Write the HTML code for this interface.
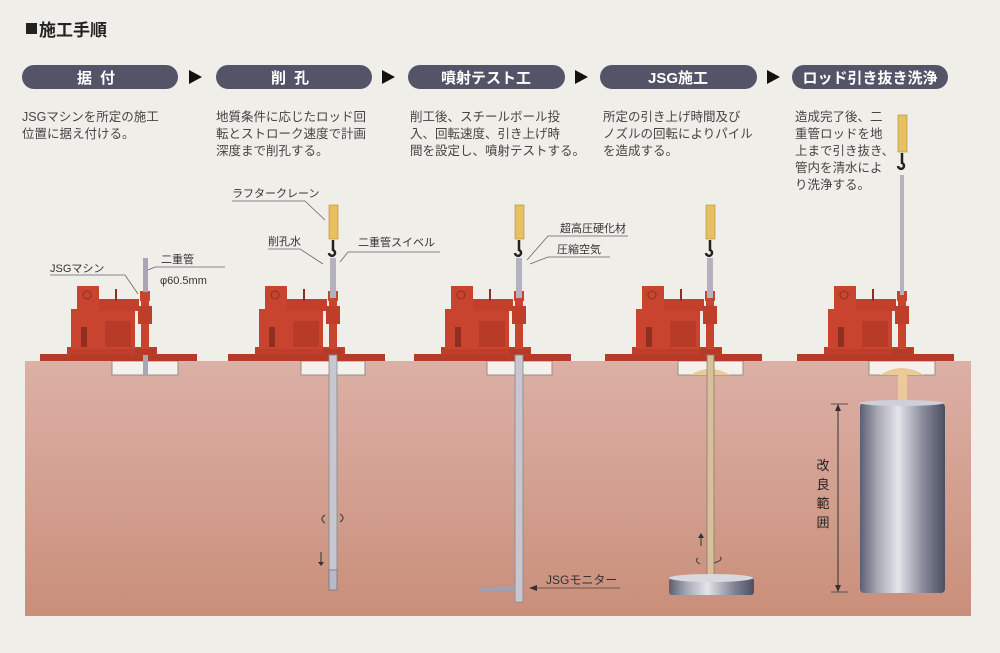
<!DOCTYPE html>
<html><head><meta charset="utf-8"><style>
html,body{margin:0;padding:0;background:#efeee9;}
body{width:1000px;height:653px;overflow:hidden;position:relative;font-family:"Liberation Sans","Noto Sans CJK JP",sans-serif;}
svg{position:absolute;left:0;top:0;}
</style></head><body>
<svg width="1000" height="653" viewBox="0 0 1000 653" xmlns="http://www.w3.org/2000/svg" font-family="Liberation Sans, Noto Sans CJK JP, sans-serif">
<defs>
<linearGradient id="gr" x1="0" y1="0" x2="0" y2="1">
<stop offset="0" stop-color="#dcb0a6"/><stop offset="1" stop-color="#c98f7a"/>
</linearGradient>
<linearGradient id="cyl" x1="0" y1="0" x2="1" y2="0">
<stop offset="0" stop-color="#5c5f72"/><stop offset="0.2" stop-color="#a4a6b2"/><stop offset="0.45" stop-color="#e4e4ea"/><stop offset="0.75" stop-color="#868898"/><stop offset="1" stop-color="#4c4f62"/>
</linearGradient>
<g id="mach">
<rect x="-105" y="-7" width="157" height="7" fill="#b63a28"/>
<rect x="-78" y="-14" width="90" height="8" fill="#bf3e2a"/>
<rect x="-74" y="-52" width="64" height="40" fill="#c8442e"/>
<rect x="-68" y="-75" width="22" height="25" fill="#c8442e"/>
<rect x="-46" y="-62" width="40" height="12" fill="#c2402b"/>
<rect x="-40" y="-40" width="26" height="26" fill="#b83b28"/>
<rect x="-64" y="-34" width="6" height="20" fill="#8e2f22"/>
<rect x="-30" y="-72" width="2" height="12" fill="#8e2f22"/>
<circle cx="-58" cy="-66" r="4" fill="none" stroke="#8e2f22" stroke-width="1"/>
<rect x="-4" y="-62" width="8" height="52" fill="#c8442e"/>
<rect x="-7" y="-55" width="14" height="18" fill="#bf3e2a"/>
<rect x="-5" y="-70" width="10" height="10" fill="#c8442e"/>
<rect x="-10" y="-12" width="20" height="5" fill="#b63a28"/>
</g>
</defs>

<rect x="26" y="23" width="11" height="11" fill="#222"/>
<text x="39" y="36" font-size="17" font-weight="bold" fill="#222">施工手順</text>

<g font-size="15" font-weight="bold" fill="#fff" text-anchor="middle">
<rect x="22" y="65" width="156" height="24" rx="12" fill="#545468"/><text x="100" y="83" letter-spacing="8">据付</text>
<rect x="216" y="65" width="156" height="24" rx="12" fill="#545468"/><text x="294" y="83" letter-spacing="8">削孔</text>
<rect x="408" y="65" width="157" height="24" rx="12" fill="#545468"/><text x="486" y="83">噴射テスト工</text>
<rect x="600" y="65" width="157" height="24" rx="12" fill="#545468"/><text x="678" y="83">JSG施工</text>
<rect x="792" y="65" width="156" height="24" rx="12" fill="#545468"/><text x="870" y="83">ロッド引き抜き洗浄</text>
</g>
<g fill="#111">
<polygon points="189,70 189,84 202,77"/>
<polygon points="382,70 382,84 395,77"/>
<polygon points="575,70 575,84 588,77"/>
<polygon points="767,70 767,84 780,77"/>
</g>

<g font-size="12.5" fill="#444">
<text x="22" y="121">JSGマシンを所定の施工</text><text x="22" y="138">位置に据え付ける。</text>
<text x="216" y="121">地質条件に応じたロッド回</text><text x="216" y="138">転とストローク速度で計画</text><text x="216" y="155">深度まで削孔する。</text>
<text x="410" y="121">削工後、スチールボール投</text><text x="410" y="138">入、回転速度、引き上げ時</text><text x="410" y="155">間を設定し、噴射テストする。</text>
<text x="603" y="121">所定の引き上げ時間及び</text><text x="603" y="138">ノズルの回転によりパイル</text><text x="603" y="155">を造成する。</text>
<text x="795" y="121">造成完了後、二</text><text x="795" y="138">重管ロッドを地</text><text x="795" y="155">上まで引き抜き、</text><text x="795" y="172">管内を清水によ</text><text x="795" y="189">り洗浄する。</text>
</g>

<rect x="25" y="361" width="946" height="255" fill="url(#gr)"/>
<g fill="#f3f1ec" stroke="#9a8a86" stroke-width="1">
<rect x="112" y="361" width="66" height="14"/>
<rect x="301" y="361" width="64" height="14"/>
<rect x="487" y="361" width="65" height="14"/>
<rect x="678" y="361" width="65" height="14"/>
<rect x="869" y="361" width="66" height="14"/>
</g>

<use href="#mach" transform="translate(145,361)"/>
<use href="#mach" transform="translate(333,361)"/>
<use href="#mach" transform="translate(519,361)"/>
<use href="#mach" transform="translate(710,361)"/>
<use href="#mach" transform="translate(902,361)"/>

<rect x="143" y="258" width="5" height="34" fill="#a8a6b4"/>
<rect x="143" y="355" width="5" height="20" fill="#a8a6b4"/>

<rect x="329" y="205" width="9" height="34" fill="#e8c060" stroke="#b08a30" stroke-width="0.6"/>
<path d="M333,240 v10 a3,3 0 1 1 -4,3" fill="none" stroke="#222" stroke-width="2.5"/>
<rect x="330" y="258" width="6" height="40" fill="#b4b2c0"/>
<rect x="329" y="355" width="8" height="235" fill="#c8c6d0" stroke="#888" stroke-width="0.8"/>
<rect x="329" y="570" width="8" height="20" fill="#b8b8c6" stroke="#777" stroke-width="0.8"/>
<path d="M325,515 q-6,4 0,8 M340,522 q6,-4 0,-8" fill="none" stroke="#444" stroke-width="1.2"/>
<line x1="321" y1="552" x2="321" y2="563" stroke="#333" stroke-width="1"/><polygon points="318,562 324,562 321,566" fill="#333"/>

<rect x="515" y="205" width="9" height="34" fill="#e8c060" stroke="#b08a30" stroke-width="0.6"/>
<path d="M519,240 v10 a3,3 0 1 1 -4,3" fill="none" stroke="#222" stroke-width="2.5"/>
<rect x="516" y="258" width="6" height="40" fill="#b4b2c0"/>
<rect x="515" y="355" width="8" height="247" fill="#c8c6d0" stroke="#888" stroke-width="0.8"/>
<polygon points="480,588 515,586 515,591 480,592" fill="#a0a0b0"/>
<line x1="535" y1="588" x2="620" y2="588" stroke="#444" stroke-width="0.8"/>
<polygon points="529,588 537,585 537,591" fill="#333"/>
<text x="546" y="584" font-size="12" fill="#333">JSGモニター</text>

<rect x="706" y="205" width="9" height="34" fill="#e8c060" stroke="#b08a30" stroke-width="0.6"/>
<path d="M710,240 v10 a3,3 0 1 1 -4,3" fill="none" stroke="#222" stroke-width="2.5"/>
<rect x="707" y="258" width="6" height="40" fill="#b4b2c0"/>
<path d="M690,375 q20,-12 40,0 z" fill="#ecc998"/>
<rect x="707" y="355" width="7" height="225" fill="#d9bf9a" stroke="#8a7a72" stroke-width="0.8"/>
<rect x="669" y="578" width="85" height="17" rx="3" fill="url(#cyl)"/>
<ellipse cx="711" cy="578" rx="42" ry="4" fill="#d8d8de"/>
<path d="M698,558 q-4,3 2,6 M720,557 q4,3 -6,6" fill="none" stroke="#444" stroke-width="1.1"/>
<line x1="701" y1="536" x2="701" y2="546" stroke="#333"/><polygon points="698,538 704,538 701,533" fill="#333"/>

<rect x="898" y="115" width="9" height="37" fill="#e8c060" stroke="#b08a30" stroke-width="0.6"/>
<path d="M902,153 v10 a3,3 0 1 1 -4,3" fill="none" stroke="#222" stroke-width="2.5"/>
<rect x="900" y="175" width="4" height="120" fill="#b4b2c0"/>
<path d="M880,375 q22,-14 44,0 z" fill="#ecc998"/>
<rect x="898" y="372" width="9" height="33" fill="#ecc998"/>
<rect x="860" y="403" width="85" height="190" rx="4" fill="url(#cyl)"/>
<ellipse cx="902" cy="403" rx="42" ry="3" fill="#cfcfd8"/>

<line x1="838" y1="404" x2="838" y2="592" stroke="#333" stroke-width="1"/>
<line x1="831" y1="404" x2="848" y2="404" stroke="#555"/>
<line x1="831" y1="592" x2="848" y2="592" stroke="#555"/>
<polygon points="835,411 841,411 838,404" fill="#333"/>
<polygon points="835,585 841,585 838,592" fill="#333"/>
<g font-size="13" fill="#222" text-anchor="middle">
<text x="823" y="470">改</text><text x="823" y="489">良</text><text x="823" y="508">範</text><text x="823" y="527">囲</text>
</g>

<g font-size="11" fill="#333" stroke="none">
<text x="50" y="272">JSGマシン</text>
<text x="161" y="263">二重管</text>
<text x="160" y="284">φ60.5mm</text>
<text x="232" y="197">ラフタークレーン</text>
<text x="268" y="245">削孔水</text>
<text x="358" y="246">二重管スイベル</text>
<text x="560" y="232">超高圧硬化材</text>
<text x="557" y="253">圧縮空気</text>
</g>
<g fill="none" stroke="#666" stroke-width="0.8">
<polyline points="50,275 125,275 138,294"/>
<polyline points="155,267 225,267"/><line x1="148" y1="270" x2="155" y2="267"/>
<polyline points="232,201 305,201 325,220"/>
<polyline points="268,249 300,249 323,264"/>
<polyline points="440,252 348,252 340,262"/>
<polyline points="628,236 548,236 527,260"/>
<polyline points="610,257 548,257 530,264"/>
</g>
</svg>
</body></html>
